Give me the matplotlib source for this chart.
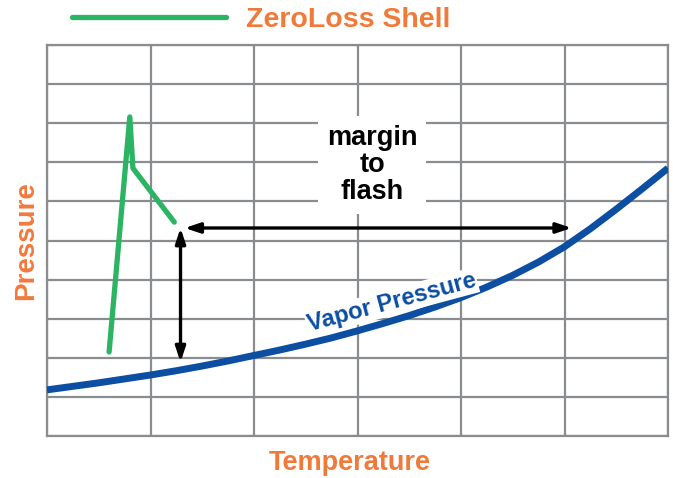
import numpy as np
import matplotlib.pyplot as plt

plt.rcParams['font.family'] = ['Liberation Sans', 'DejaVu Sans']

# Data (grid units: 6 temperature columns, 10 pressure rows)
vp_temp = [0, 0.25, 0.5, 0.75, 1, 1.25, 1.5, 1.75, 2, 2.25, 2.5, 2.75, 3,
           3.25, 3.5, 3.75, 4, 4.25, 4.5, 4.75, 5, 5.25, 5.5, 5.75, 6]
vp_pres = [1.18, 1.27, 1.36, 1.46, 1.56, 1.67, 1.79, 1.92, 2.06, 2.20, 2.35, 2.51, 2.69,
           2.88, 3.08, 3.30, 3.54, 3.81, 4.11, 4.45, 4.84, 5.30, 5.80, 6.32, 6.85]

shell_temp = [0.60, 0.80, 0.83, 1.23]
shell_pres = [2.15, 8.16, 6.85, 5.47]

# margin arrows
margin_y = 5.32
margin_x = [1.33, 5.07]
drop_x = 1.29
drop_y = [5.32, 1.89]

orange = '#f07a3a'
green = '#2bb463'
blue = '#0b4ea2'
grid_c = '#8a8d8f'

fig = plt.figure(figsize=(6.73, 4.78), dpi=100)
ax = fig.add_axes([47 / 673, 42 / 478, 621 / 673, 391 / 478])
ax.set_xlim(0, 6)
ax.set_ylim(0, 10)
ax.set_xticks(np.arange(0, 7))
ax.set_yticks(np.arange(0, 11))
ax.tick_params(length=0, labelbottom=False, labelleft=False)
ax.grid(True, color=grid_c, linewidth=1.6)
for s in ax.spines.values():
    s.set_color(grid_c)
    s.set_linewidth(1.6)

ax.plot(vp_temp, vp_pres, color=blue, linewidth=5, solid_capstyle='butt',
        solid_joinstyle='round', zorder=5)
shell, = ax.plot(shell_temp, shell_pres, color=green, linewidth=3.8,
                 solid_capstyle='round', zorder=5, label='ZeroLoss Shell')

arrow = dict(arrowstyle='<|-|>,head_length=0.9,head_width=0.3', color='black',
             linewidth=2.4, shrinkA=0, shrinkB=0)
ax.annotate('', xy=(margin_x[1], margin_y), xytext=(margin_x[0], margin_y),
            arrowprops=arrow, zorder=6)
ax.annotate('', xy=(drop_x, drop_y[1]), xytext=(drop_x, drop_y[0]),
            arrowprops=arrow, zorder=6)

ax.text(3.14, 6.93, 'margin\nto\nflash', ha='center', va='center', fontsize=19.5,
        fontweight='bold', linespacing=1.07, zorder=7,
        bbox=dict(facecolor='white', edgecolor='none', pad=6))
ax.text(3.33, 3.42, 'Vapor Pressure', ha='center', va='center', fontsize=17,
        fontweight='bold', color=blue, rotation=15, rotation_mode='anchor', zorder=7,
        bbox=dict(facecolor='white', edgecolor='none', pad=1))

ax.set_xlabel('Temperature', color=orange, fontsize=19.5, fontweight='bold')
ax.set_ylabel('Pressure', color=orange, fontsize=20, fontweight='bold', labelpad=6)
ax.xaxis.set_label_coords(0.488, -0.036)

leg = fig.legend(handles=[shell], loc='center left', bbox_to_anchor=(72 / 673, 1 - 20 / 478),
                 frameon=False, fontsize=20.5, handlelength=5.4, handletextpad=0.7,
                 borderpad=0, borderaxespad=0)
for t in leg.get_texts():
    t.set_color(orange)
    t.set_fontweight('bold')

fig.savefig('out.png', dpi=100)
